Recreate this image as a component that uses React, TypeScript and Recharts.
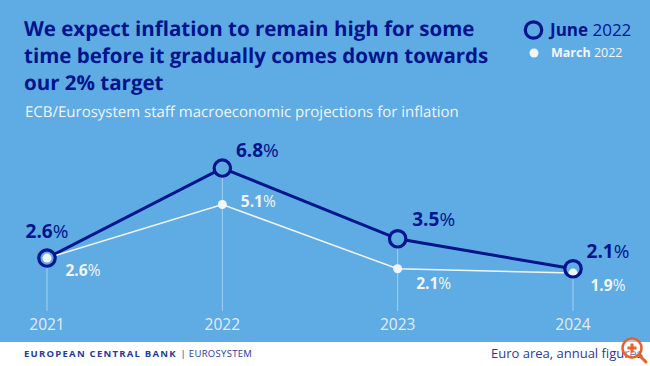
/**
 * ECB staff inflation projections, June 2022 vs March 2022
 */
import { LineChart, Line, XAxis, YAxis, ErrorBar, LabelList } from 'recharts'

const years = ['2021', '2022', '2023', '2024']
const june2022 = [2.6, 6.8, 3.5, 2.1]
const march2022 = [2.6, 5.1, 2.1, 1.9]

const AXIS_FLOOR = 0.13
const AXIS_TOP = 7.13

const NAVY = '#00148c'
const WHITE = '#f2f5f8'
const BLUE = '#5fabe4'
const FONT = '"Open Sans", sans-serif'

const data = years.map((year, i) => ({
    year,
    june: june2022[i],
    march: march2022[i],
    drop: [june2022[i] - AXIS_FLOOR, 0],
}))

// label offsets from each point, per year
const juneOffsets = [[0, -27], [35, -18], [36, -20], [35, -18]]
const marchOffsets = [[36, 12], [36, -4], [36, 14], [35, 12]]

function pctLabel(values: number[], offsets: number[][], color: string, size: number) {
    return (props: any) => {
        const { x, y, index } = props
        const [dx, dy] = offsets[index]
        return (
            <text x={x + dx} y={y + dy} textAnchor="middle" dominantBaseline="central" fill={color} fontFamily={FONT} fontSize={size}>
                <tspan fontWeight={700}>{values[index].toFixed(1)}</tspan>
                <tspan fontWeight={400}>%</tspan>
            </text>
        )
    }
}

export default function App() {
    return (
        <div style={{ position: 'fixed', left: 0, top: 0, width: 650, height: 366, background: '#fff', overflow: 'hidden', fontFamily: FONT }}>
            <div style={{ position: 'absolute', left: 0, top: 0, width: 650, height: 342, background: BLUE }} />
            <div style={{ position: 'absolute', left: 24, top: 16, width: 520, color: NAVY, fontWeight: 700, fontSize: 20.5, lineHeight: '27px', whiteSpace: 'nowrap', textRendering: 'geometricPrecision' }}>
                We expect inflation to remain high for some<br />
                time before it gradually comes down towards<br />
                our 2% target
            </div>
            <div style={{ position: 'absolute', left: 25, top: 101, color: WHITE, fontSize: 15, lineHeight: '22px', textRendering: 'geometricPrecision' }}>
                ECB/Eurosystem staff macroeconomic projections for inflation
            </div>

            <svg style={{ position: 'absolute', left: 520, top: 10 }} width={40} height={60}>
                <circle cx={13.5} cy={20} r={8.2} fill="none" stroke={NAVY} strokeWidth={3.2} />
                <circle cx={14} cy={43} r={4.5} fill={WHITE} />
            </svg>
            <div style={{ position: 'absolute', left: 550, top: 18, color: NAVY, fontSize: 17, lineHeight: '24px' }}>
                <b>June</b> 2022
            </div>
            <div style={{ position: 'absolute', left: 551, top: 43, color: WHITE, fontSize: 12.5, lineHeight: '20px' }}>
                <b>March</b> 2022
            </div>

            <div style={{ position: 'absolute', left: 0, top: 0 }}>
                <LineChart width={650} height={366} data={data} margin={{ top: 161, right: 77, bottom: 25, left: 47 }}>
                    <XAxis
                        dataKey="year"
                        height={30}
                        axisLine={false}
                        tickLine={false}
                        interval={0}
                        tick={{ fill: WHITE, fontSize: 15.5, fontFamily: FONT, opacity: 0.9 }}
                        tickMargin={2}
                    />
                    <YAxis hide domain={[AXIS_FLOOR, AXIS_TOP]} />
                    <Line
                        dataKey="june"
                        stroke={NAVY}
                        strokeWidth={3}
                        dot={{ r: 8.2, fill: BLUE, stroke: 'none' }}
                        isAnimationActive={false}
                    >
                        <ErrorBar dataKey="drop" direction="y" width={0} stroke="#a6d0ee" strokeWidth={1} isAnimationActive={false} />
                        <LabelList dataKey="june" content={pctLabel(june2022, juneOffsets, NAVY, 19)} />
                    </Line>
                    <Line
                        dataKey="march"
                        stroke={WHITE}
                        strokeWidth={1.5}
                        dot={{ r: 4.5, fill: WHITE, stroke: 'none' }}
                        isAnimationActive={false}
                    >
                        <LabelList dataKey="march" content={pctLabel(march2022, marchOffsets, WHITE, 15.5)} />
                    </Line>
                    {/* rings go over the white dots, see 2024 */}
                    <Line
                        dataKey="june"
                        stroke="none"
                        legendType="none"
                        dot={{ r: 8.2, fill: 'none', stroke: NAVY, strokeWidth: 3.2 }}
                        isAnimationActive={false}
                    />
                </LineChart>
            </div>

            <div style={{ position: 'absolute', left: 24, top: 347, color: '#243c9c', fontSize: 9.5, lineHeight: '14px', fontWeight: 700, letterSpacing: 1.25, whiteSpace: 'nowrap' }}>
                EUROPEAN CENTRAL BANK <span style={{ fontWeight: 400, letterSpacing: 0.3 }}>| EUROSYSTEM</span>
            </div>
            <div style={{ position: 'absolute', left: 491, top: 344, color: '#2b3a97', fontSize: 13, lineHeight: '18px', whiteSpace: 'nowrap' }}>
                Euro area, annual figures
            </div>

            {/* zoom badge sitting on the corner of the source image */}
            <svg style={{ position: 'absolute', left: 618, top: 336 }} width={32} height={30}>
                <circle cx={14} cy={12} r={9.5} fill="#ffffff66" stroke="#e8622c" strokeWidth={2.5} />
                <path d="M21 19 L28 26" stroke="#e8622c" strokeWidth={3} strokeLinecap="round" />
                <path d="M14 7.5 V16.5 M9.5 12 H18.5" stroke="#e8622c" strokeWidth={3} />
            </svg>
        </div>
    )
}
